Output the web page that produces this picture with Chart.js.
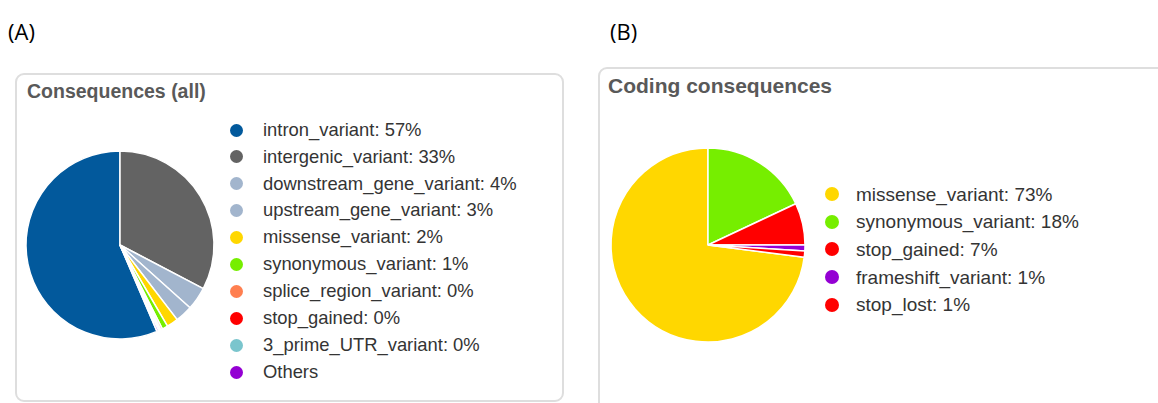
<!DOCTYPE html>
<html>
<head>
<meta charset="utf-8">
<script src="https://cdn.jsdelivr.net/npm/chart.js@4.4.1/dist/chart.umd.min.js"></script>
<style>
  html, body { margin: 0; padding: 0; background: #fff; }
  body {
    width: 1158px; height: 403px; position: relative; overflow: hidden;
    font-family: "Liberation Sans", Arial, sans-serif;
  }
  .tag { position: absolute; font-family: "Open Sans", "Liberation Sans", sans-serif; font-size: 22px; line-height: 1; color: #000; }
  .panel { position: absolute; box-sizing: border-box; border: 2px solid #dedede; border-radius: 9px; background: #fff; }
  .title { position: absolute; font-weight: bold; color: #595959; white-space: nowrap; line-height: 1; }
  .legend-item { position: absolute; white-space: nowrap; color: #343434; line-height: 1; }
  .dot { position: absolute; border-radius: 50%; }
  canvas { position: absolute; }
</style>
</head>
<body>
  <div class="tag" style="left:8px; top:20px;">(A)</div>
  <div class="tag" style="left:610px; top:20px;">(B)</div>

  <div class="panel" style="left:15px; top:73px; width:549px; height:329px;"></div>
  <div class="panel" style="left:598px; top:67px; width:620px; height:380px;"></div>

  <div class="title" style="left:27px; top:81.5px; font-size:19.5px;">Consequences (all)</div>
  <div class="title" style="left:608px; top:75px; font-size:21px;">Coding consequences</div>

  <canvas id="pieAll" width="220" height="220" style="left:10px; top:135px;"></canvas>
  <canvas id="pieCoding" width="230" height="230" style="left:593px; top:130px;"></canvas>

  <div id="legendAll"></div>
  <div id="legendCoding"></div>

<script>
// Consequences (all): share of variants per consequence type, in percent
const allCategories = [
  'intron_variant', 'intergenic_variant', 'downstream_gene_variant',
  'upstream_gene_variant', 'missense_variant', 'synonymous_variant',
  'splice_region_variant', 'stop_gained', '3_prime_UTR_variant', 'Others'
];
const allPercent = [57, 33, 4, 3, 2, 1, 0.3, 0.2, 0.2, 0.3];
const allColors = [
  '#02599c', '#636363', '#a2b5cd', '#a2b5cd', '#ffd700', '#76ee00',
  '#ff7f50', '#ff0000', '#7ac5cd', '#9400d3'
];

// Coding consequences, in percent
const codingCategories = [
  'missense_variant', 'synonymous_variant', 'stop_gained',
  'frameshift_variant', 'stop_lost'
];
const codingPercent = [73, 18, 7, 1, 1];
const codingColors = ['#ffd700', '#76ee00', '#ff0000', '#9400d3', '#ff0000'];

// Category that is listed without a percentage
const groupedCategory = 'Others';

// The first slice runs clockwise and ends at 12 o'clock
function drawPie(canvasId, labels, values, colors, radius) {
  const total = values.reduce((a, b) => a + b, 0);
  return new Chart(document.getElementById(canvasId), {
    type: 'pie',
    data: {
      labels: labels,
      datasets: [{
        data: values,
        backgroundColor: colors,
        borderColor: '#ffffff',
        borderWidth: 1.5
      }]
    },
    options: {
      responsive: false,
      animation: false,
      devicePixelRatio: 1,
      rotation: -360 * values[0] / total,
      radius: radius,
      layout: { padding: 0 },
      plugins: {
        legend: { display: false },
        tooltip: { enabled: false }
      }
    }
  });
}

// Legend: coloured dot + "name: NN%" per row
function buildLegend(hostId, labels, values, colors, cfg) {
  const host = document.getElementById(hostId);
  labels.forEach((name, i) => {
    const cy = cfg.y0 + i * cfg.dy;
    const dot = document.createElement('div');
    dot.className = 'dot';
    dot.style.left = (cfg.dotX - cfg.dotR) + 'px';
    dot.style.top = (cy - cfg.dotR) + 'px';
    dot.style.width = dot.style.height = (2 * cfg.dotR) + 'px';
    dot.style.background = colors[i];
    host.appendChild(dot);

    const item = document.createElement('div');
    item.className = 'legend-item';
    item.style.fontSize = cfg.fontSize + 'px';
    item.style.left = cfg.textX + 'px';
    // baseline sits a little below the dot centre
    const baseline = cy + cfg.baselineOffset;
    item.style.top = (baseline - 0.8465 * cfg.fontSize) + 'px';
    item.textContent = name === groupedCategory
      ? name
      : name + ': ' + Math.round(values[i]) + '%';
    host.appendChild(item);
  });
}

drawPie('pieAll', allCategories, allPercent, allColors, 94);
drawPie('pieCoding', codingCategories, codingPercent, codingColors, 97);

buildLegend('legendAll', allCategories, allPercent, allColors,
  { y0: 130, dy: 26.9, dotX: 236, dotR: 6.5, textX: 263, fontSize: 18.4, baselineOffset: 6.3 });
buildLegend('legendCoding', codingCategories, codingPercent, codingColors,
  { y0: 194, dy: 27.7, dotX: 832, dotR: 7, textX: 856, fontSize: 19, baselineOffset: 6.7 });
</script>
</body>
</html>
